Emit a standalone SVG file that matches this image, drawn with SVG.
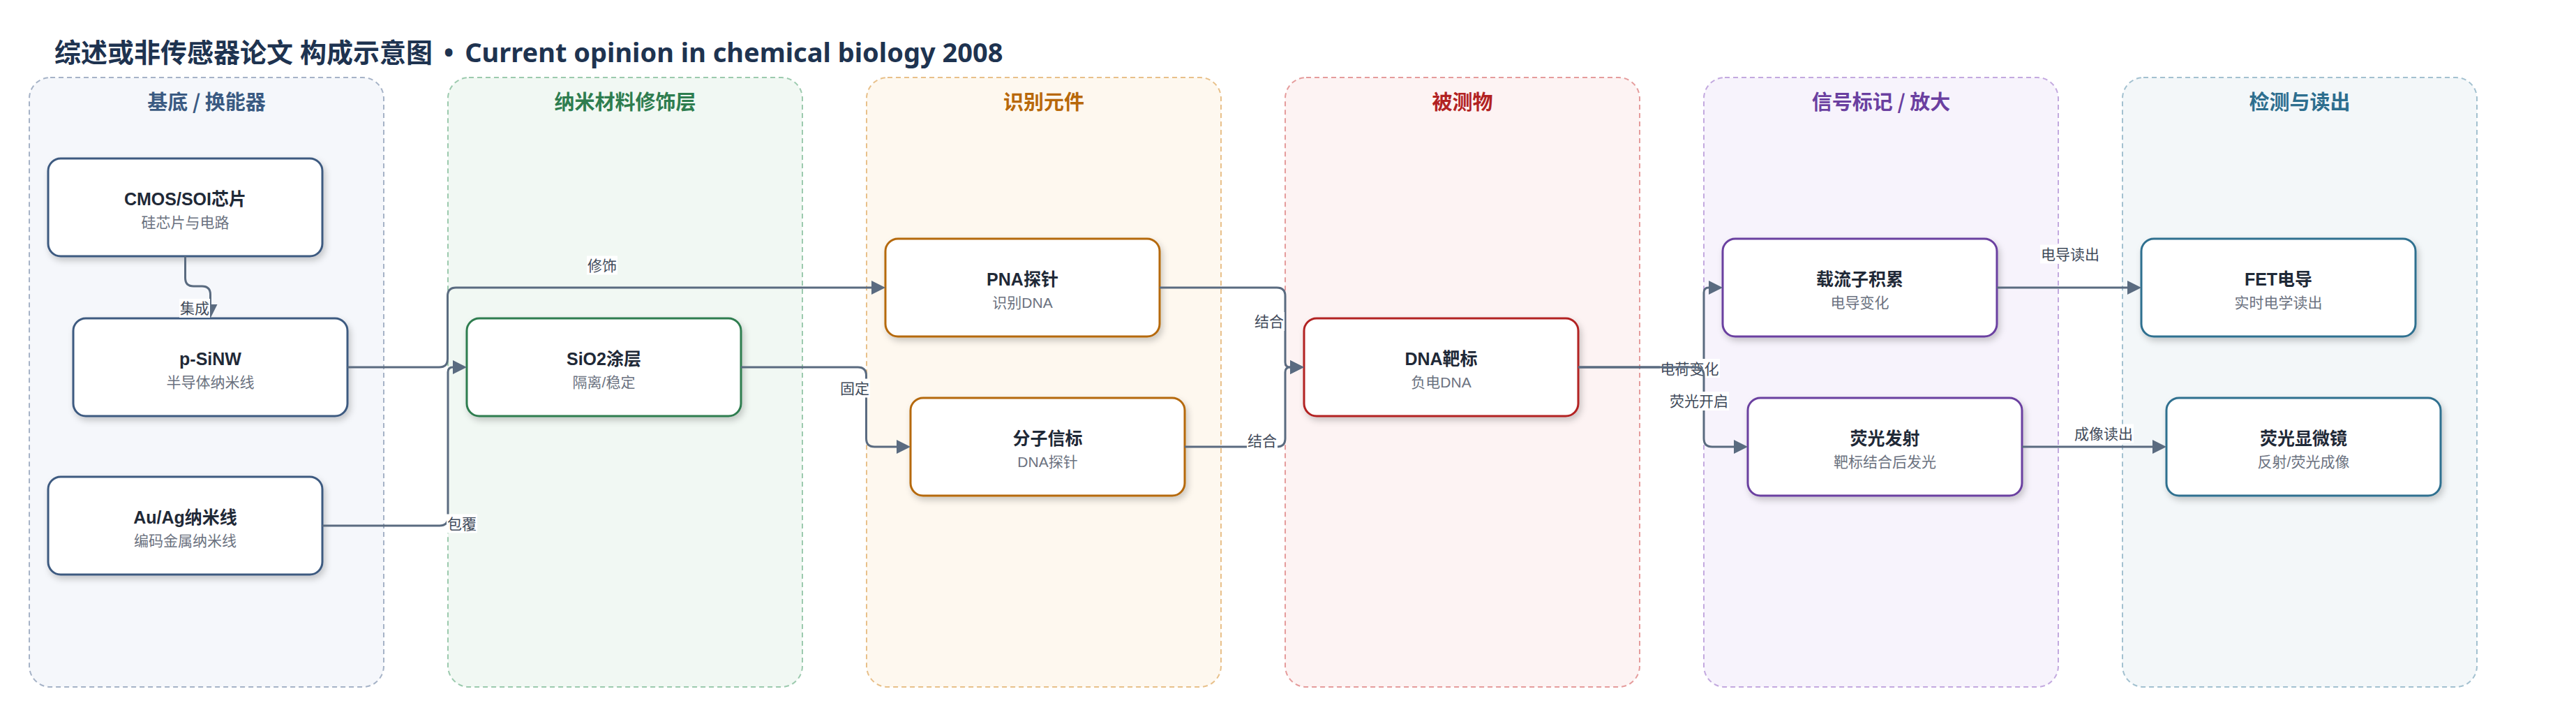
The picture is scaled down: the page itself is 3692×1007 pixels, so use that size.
<svg xmlns="http://www.w3.org/2000/svg" width="3692" height="1007" viewBox="0 0 3692 1007">
<defs>
<style>
.lane{stroke-width:2;stroke-dasharray:7 5}
.lt{font-family:"Noto Sans CJK SC","Noto Sans",sans-serif;font-weight:700;font-size:29px;text-anchor:middle}
.nb{fill:#fff;stroke-width:3}
.nt{font-family:"Liberation Sans","Noto Sans CJK SC",sans-serif;font-weight:700;font-size:25px;fill:#1f2937;text-anchor:middle}
.ns{font-family:"Liberation Sans","Noto Sans CJK SC",sans-serif;font-size:21px;fill:#6b7280;text-anchor:middle}
.e{fill:none;stroke:#5a6b80;stroke-width:3;marker-end:url(#ah)}
.eb{fill:#fff}
.el{font-family:"Noto Sans CJK SC",sans-serif;font-size:21px;fill:#3f4a5a;text-anchor:middle}
</style>
<marker id="ah" markerUnits="userSpaceOnUse" markerWidth="20" markerHeight="20" refX="0" refY="10" orient="auto">
<path d="M0,0 L20,10 L0,20 z" fill="#5a6b80"/>
</marker>
<filter id="sh" x="-10%" y="-15%" width="125%" height="145%">
<feDropShadow dx="3" dy="5" stdDeviation="5" flood-color="#000" flood-opacity="0.2"/>
</filter>
</defs>
<rect width="3692" height="1007" fill="#fff"/>
<text x="78" y="89" font-family="'Noto Sans','Noto Sans CJK SC',sans-serif" font-weight="700" font-size="38" fill="#1e3350">综述或非传感器论文 构成示意图<tspan dx="16">•</tspan><tspan dx="16">Current opinion in chemical biology 2008</tspan></text>

<g id="lanes">
<g id="lane-substrate">
<rect class="lane" x="42" y="111" width="508" height="873" rx="30" fill="#f5f7fb" stroke="#a6b3c7"/>
<text class="lt" x="296" y="157" fill="#3a5a82">基底 / 换能器</text>
</g>
<g id="lane-nano">
<rect class="lane" x="642" y="111" width="508" height="873" rx="30" fill="#f1f8f3" stroke="#9ccaae"/>
<text class="lt" x="896" y="157" fill="#2e7d4f">纳米材料修饰层</text>
</g>
<g id="lane-recog">
<rect class="lane" x="1242" y="111" width="508" height="873" rx="30" fill="#fef8ef" stroke="#e8c08a"/>
<text class="lt" x="1496" y="157" fill="#b8680a">识别元件</text>
</g>
<g id="lane-analyte">
<rect class="lane" x="1842" y="111" width="508" height="873" rx="30" fill="#fdf3f3" stroke="#e59c9c"/>
<text class="lt" x="2096" y="157" fill="#b22222">被测物</text>
</g>
<g id="lane-signal">
<rect class="lane" x="2442" y="111" width="508" height="873" rx="30" fill="#f7f3fc" stroke="#c3a9df"/>
<text class="lt" x="2696" y="157" fill="#6a3fa0">信号标记 / 放大</text>
</g>
<g id="lane-readout">
<rect class="lane" x="3042" y="111" width="508" height="873" rx="30" fill="#f3f7f9" stroke="#a3c1d0"/>
<text class="lt" x="3296" y="157" fill="#2d6e8e">检测与读出</text>
</g>
</g>

<g id="nodes">
<g id="n-cmos"><rect class="nb" x="69" y="227" width="393" height="140" rx="18" stroke="#3d5a80" filter="url(#sh)"/><text class="nt" x="265.5" y="293.5">CMOS/SOI芯片</text><text class="ns" x="265.5" y="326">硅芯片与电路</text></g>
<g id="n-psinw"><rect class="nb" x="105" y="456" width="393" height="140" rx="18" stroke="#3d5a80" filter="url(#sh)"/><text class="nt" x="301.5" y="522.5">p-SiNW</text><text class="ns" x="301.5" y="555">半导体纳米线</text></g>
<g id="n-auag"><rect class="nb" x="69" y="683" width="393" height="140" rx="18" stroke="#3d5a80" filter="url(#sh)"/><text class="nt" x="265.5" y="749.5">Au/Ag纳米线</text><text class="ns" x="265.5" y="782">编码金属纳米线</text></g>
<g id="n-sio2"><rect class="nb" x="669" y="456" width="393" height="140" rx="18" stroke="#2e7d4f" filter="url(#sh)"/><text class="nt" x="865.5" y="522.5">SiO2涂层</text><text class="ns" x="865.5" y="555">隔离/稳定</text></g>
<g id="n-pna"><rect class="nb" x="1269" y="342" width="393" height="140" rx="18" stroke="#b5690c" filter="url(#sh)"/><text class="nt" x="1465.5" y="408.5">PNA探针</text><text class="ns" x="1465.5" y="441">识别DNA</text></g>
<g id="n-beacon"><rect class="nb" x="1305" y="570" width="393" height="140" rx="18" stroke="#b5690c" filter="url(#sh)"/><text class="nt" x="1501.5" y="636.5">分子信标</text><text class="ns" x="1501.5" y="669">DNA探针</text></g>
<g id="n-dna"><rect class="nb" x="1869" y="456" width="393" height="140" rx="18" stroke="#b22222" filter="url(#sh)"/><text class="nt" x="2065.5" y="522.5">DNA靶标</text><text class="ns" x="2065.5" y="555">负电DNA</text></g>
<g id="n-carrier"><rect class="nb" x="2469" y="342" width="393" height="140" rx="18" stroke="#6a3fa0" filter="url(#sh)"/><text class="nt" x="2665.5" y="408.5">载流子积累</text><text class="ns" x="2665.5" y="441">电导变化</text></g>
<g id="n-fluor"><rect class="nb" x="2505" y="570" width="393" height="140" rx="18" stroke="#6a3fa0" filter="url(#sh)"/><text class="nt" x="2701.5" y="636.5">荧光发射</text><text class="ns" x="2701.5" y="669">靶标结合后发光</text></g>
<g id="n-fet"><rect class="nb" x="3069" y="342" width="393" height="140" rx="18" stroke="#2f6f8f" filter="url(#sh)"/><text class="nt" x="3265.5" y="408.5">FET电导</text><text class="ns" x="3265.5" y="441">实时电学读出</text></g>
<g id="n-micro"><rect class="nb" x="3105" y="570" width="393" height="140" rx="18" stroke="#2f6f8f" filter="url(#sh)"/><text class="nt" x="3301.5" y="636.5">荧光显微镜</text><text class="ns" x="3301.5" y="669">反射/荧光成像</text></g>
</g>

<g id="connectors">
<path class="e" d="M265.5,367 V398 Q265.5,410 277.5,410 H289.5 Q301.5,410 301.5,422 V436"/>
<rect class="eb" x="257" y="428" width="44" height="27"/><text class="el" x="279" y="449">集成</text>

<path class="e" d="M498,526 H629.5 Q641.5,526 641.5,514 V424 Q641.5,412 653.5,412 H1249"/>
<rect class="eb" x="841" y="366.5" width="44" height="27"/><text class="el" x="863" y="387.5">修饰</text>

<path class="e" d="M462,753 H630 Q642,753 642,741 V533 Q642,526 649,526"/>
<rect class="eb" x="640" y="736.5" width="44" height="27"/><text class="el" x="662" y="757.5">包覆</text>

<path class="e" d="M1062,526 H1229.5 Q1241.5,526 1241.5,538 V628 Q1241.5,640 1253.5,640 H1285"/>
<rect class="eb" x="1203" y="542.5" width="44" height="27"/><text class="el" x="1225" y="563.5">固定</text>

<path class="e" d="M1662,412 H1830 Q1842,412 1842,424 V519 Q1842,526 1849,526"/>
<rect class="eb" x="1797" y="447" width="44" height="27"/><text class="el" x="1819" y="468">结合</text>

<path class="e" d="M1698,640 H1830 Q1842,640 1842,628 V533 Q1842,526 1849,526"/>
<rect class="eb" x="1787" y="618" width="44" height="27"/><text class="el" x="1809" y="639">结合</text>

<path class="e" d="M2262,526 H2430 Q2442,526 2442,514 V419 Q2442,412 2449,412"/>
<rect class="eb" x="2379" y="514" width="86" height="27"/><text class="el" x="2421.5" y="535.5">电荷变化</text>

<path class="e" d="M2262,526 H2430 Q2442,526 2442,538 V628 Q2442,640 2454,640 H2485"/>
<rect class="eb" x="2392" y="561" width="86" height="27"/><text class="el" x="2435" y="582">荧光开启</text>

<path class="e" d="M2862,412 H3049"/>
<rect class="eb" x="2924" y="350.5" width="86" height="27"/><text class="el" x="2967" y="371.5">电导读出</text>

<path class="e" d="M2898,640 H3085"/>
<rect class="eb" x="2972" y="607.5" width="86" height="27"/><text class="el" x="3015" y="628.5">成像读出</text>
</g>
</svg>
